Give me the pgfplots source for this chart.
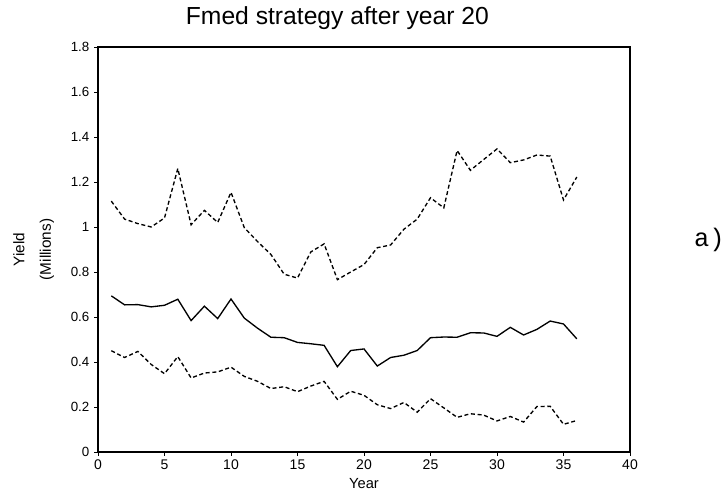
\documentclass[border=0pt]{standalone}
\usepackage{fontspec}
\setmainfont{Liberation Sans}
\newfontfamily\monofont{Liberation Mono}
\usepackage{pgfplots}
\pgfplotsset{compat=1.18}
\begin{document}
\begin{tikzpicture}
\useasboundingbox (0,0) rectangle (546pt,371.25pt);
\begin{axis}[
  at={(73.5pt,32.25pt)}, anchor=south west,
  scale only axis, width=399pt, height=303.75pt,
  xmin=0, xmax=40, ymin=0, ymax=1.8,
  xtick={0,5,...,40}, ytick={0,0.2,...,1.8},
  tick align=outside, xtick pos=bottom, ytick pos=left,
  major tick length=3pt,
  axis line style={line width=0.9pt},
  tick style={line width=0.7pt, black},
  /pgf/number format/assume math mode=true,
  xticklabel style={font=\fontsize{10.5}{11}\selectfont, yshift=1pt},
  yticklabel style={font=\fontsize{10}{11}\selectfont},
  every axis title shift=0pt,
  title={Fmed strategy after year 20},
  title style={font=\fontsize{18.5}{21}\selectfont, at={(axis description cs:0.45,1.072)}, anchor=center},
  xlabel={Year},
  xlabel style={font=\fontsize{11}{12}\selectfont, at={(axis description cs:0.5,-0.077)}, anchor=center},
  ylabel={Yield},
  ylabel style={font=\fontsize{11.5}{12}\selectfont, at={(axis description cs:-0.1485,0.5)}, anchor=center},
  clip=false,
]
\addplot[black, line width=1pt, dash pattern=on 3pt off 2pt] coordinates {
(1,1.115)(2,1.035)(3,1.015)(4,1.0)(5,1.04)(6,1.26)(7,1.01)(8,1.074)(9,1.02)(10,1.154)
(11,0.997)(12,0.935)(13,0.878)(14,0.79)(15,0.773)(16,0.889)(17,0.925)(18,0.766)(19,0.80)(20,0.833)
(21,0.908)(22,0.92)(23,0.99)(24,1.035)(25,1.13)(26,1.085)(27,1.34)(28,1.252)(29,1.30)(30,1.347)
(31,1.286)(32,1.298)(33,1.32)(34,1.315)(35,1.12)(36,1.222)};
\addplot[black, line width=1pt] coordinates {
(1,0.694)(2,0.654)(3,0.655)(4,0.645)(5,0.652)(6,0.679)(7,0.584)(8,0.648)(9,0.593)(10,0.68)
(11,0.595)(12,0.55)(13,0.51)(14,0.508)(15,0.487)(16,0.481)(17,0.474)(18,0.379)(19,0.451)(20,0.458)
(21,0.382)(22,0.42)(23,0.43)(24,0.451)(25,0.508)(26,0.511)(27,0.51)(28,0.53)(29,0.529)(30,0.514)
(31,0.554)(32,0.52)(33,0.545)(34,0.582)(35,0.569)(36,0.503)};
\addplot[black, line width=1pt, dash pattern=on 3pt off 2pt] coordinates {
(1,0.45)(2,0.42)(3,0.447)(4,0.389)(5,0.348)(6,0.424)(7,0.329)(8,0.351)(9,0.356)(10,0.377)
(11,0.336)(12,0.314)(13,0.282)(14,0.29)(15,0.268)(16,0.293)(17,0.314)(18,0.234)(19,0.27)(20,0.252)
(21,0.21)(22,0.193)(23,0.22)(24,0.177)(25,0.237)(26,0.196)(27,0.154)(28,0.17)(29,0.164)(30,0.138)
(31,0.158)(32,0.133)(33,0.202)(34,0.203)(35,0.123)(36,0.14)};
\node[font=\fontsize{11.5}{12}\selectfont, rotate=90, anchor=center] at (axis description cs:-0.096,0.5) {(Millions)};
\node[font=\monofont\fontsize{19}{21}\selectfont, anchor=center] at (axis description cs:1.149,0.523) {a)};
\end{axis}
\end{tikzpicture}
\end{document}
